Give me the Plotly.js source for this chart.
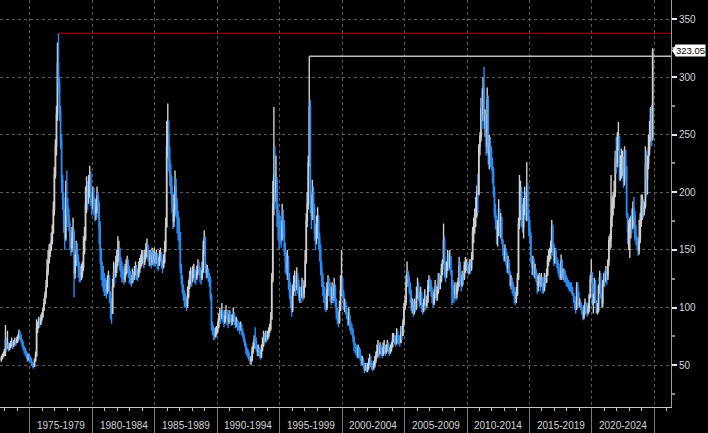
<!DOCTYPE html>
<html>
<head>
<meta charset="utf-8">
<script src="https://cdn.plot.ly/plotly-3.0.1.min.js"></script>
<style>html,body{margin:0;padding:0;background:#000;}#chart{width:708px;height:433px;}</style>
</head>
<body>
<div id="chart"></div>
<script>
// Monthly bars, Sep 1972 .. Nov 2024
const startYear = 1972, startMonth = 9;
const firstOpen = 55;
const close = [
  56,58,60,62,
  72,66,68,64,66,68,70,67,69,71,70,72,
  74,78,76,72,70,66,64,62,60,56,58,57,
  55,52,50,49,54,58,82,84,88,86,90,92,
  98,104,110,118,132,140,148,150,158,165,185,215,
  240,268,312,296,270,245,210,195,175,160,195,188,
  180,172,160,152,160,165,130,140,150,142,135,130,
  128,130,135,148,160,190,200,195,205,215,195,190,
  195,190,182,185,196,190,170,150,135,128,125,120,
  118,115,120,125,112,105,95,118,130,128,135,140,
  145,150,140,132,130,128,125,130,135,138,132,128,
  125,122,128,126,130,134,130,128,132,136,140,142,
  145,140,144,150,152,146,142,144,140,145,142,146,
  142,145,140,138,144,146,140,136,140,150,170,240,
  250,228,215,205,190,175,185,205,190,178,170,165,
  135,125,118,112,108,104,102,110,118,125,128,125,
  130,132,128,126,130,136,134,128,126,132,150,160,
  135,130,132,128,125,110,85,82,78,75,78,80,
  84,90,95,92,96,92,88,92,96,90,88,94,
  92,88,90,94,90,86,88,85,84,82,84,80,
  76,72,68,64,62,60,56,54,55,62,66,72,
  70,66,62,64,60,58,64,68,74,72,76,74,
  76,80,82,90,124,190,215,200,210,180,170,165,
  165,160,175,170,150,140,135,140,125,120,105,98,
  115,120,122,118,125,120,110,112,110,118,112,118,
  140,175,190,225,275,190,180,200,185,165,160,172,
  175,160,150,135,128,118,112,108,100,115,120,118,
  112,108,116,110,118,105,96,92,88,98,115,125,
  112,102,104,98,95,90,92,84,82,80,74,68,
  66,62,60,64,60,58,52,54,50,46,48,46,
  48,52,54,52,50,48,50,54,58,62,66,60,
  64,62,60,64,66,62,64,68,64,62,64,66,
  72,74,72,70,76,74,72,70,78,76,86,100,
  105,122,130,125,120,112,100,104,98,102,100,110,
  118,110,106,112,100,98,104,110,102,106,118,124,
  120,114,110,104,112,118,110,114,124,122,124,134,
  140,158,135,130,134,144,138,144,132,118,118,112,
  116,112,118,122,136,124,120,128,126,136,136,138,
  134,130,136,135,142,166,170,180,180,200,198,240,
  248,272,268,290,262,265,240,280,232,240,236,226,
  218,200,182,175,168,170,185,170,178,158,150,143,
  148,140,135,138,130,120,122,118,115,110,108,112,
  125,172,178,200,185,170,188,192,188,200,178,168,
  162,140,135,140,130,132,126,120,122,125,120,126,
  118,116,126,122,128,140,145,148,150,170,155,140,
  148,140,138,134,130,126,140,130,132,128,126,122,
  122,120,118,118,116,112,108,102,100,118,112,102,
  104,100,96,92,96,104,96,96,100,110,124,130,
  104,106,120,106,96,98,118,126,110,104,120,126,
  124,130,128,140,158,160,178,190,196,200,230,226,
  240,248,222,224,230,230,210,236,222,180,166,168,
  172,176,170,186,180,160,160,156,150,160,176,188,
  190,184,188,224,212,225,238,250,272,248,323.05
];
const high = [
  58,60,62,64,
  85,74,80,70,69,71,74,71,72,74,73,75,
  77,81,80,77,73,70,67,65,63,61,60,60,
  58,56,53,52,56,62,90,88,92,91,94,96,
  100,108,114,124,142,150,155,156,165,172,192,222,
  246,275,330,338,300,275,250,215,200,185,210,219,
  195,186,175,166,170,178,168,146,158,156,146,140,
  136,138,140,162,170,205,214,210,215,223,218,200,
  205,204,195,194,205,200,192,175,152,140,136,130,
  126,124,128,132,128,114,108,125,140,138,145,150,
  162,158,152,144,140,136,134,138,142,145,142,136,
  132,128,134,132,136,140,137,134,140,143,146,150,
  150,147,150,156,160,155,150,150,148,152,150,152,
  148,150,147,144,150,152,148,142,146,158,178,262,
  277,262,240,225,214,200,198,219,212,195,184,178,
  150,138,128,120,115,112,108,118,124,132,135,133,
  136,138,134,132,136,142,140,135,132,140,158,167,
  162,138,137,134,130,127,112,88,84,82,83,84,
  88,95,100,98,104,98,94,98,102,98,94,98,
  97,94,94,100,96,92,92,90,88,87,88,86,
  82,78,74,70,66,64,62,58,58,66,70,76,
  83,74,68,68,66,63,68,74,80,78,80,80,
  80,83,86,96,130,210,274,240,232,213,190,182,
  180,175,190,185,176,156,148,150,145,130,122,110,
  120,128,132,128,135,130,124,118,118,126,122,124,
  150,182,200,232,318,280,198,211,205,190,172,180,
  187,180,165,155,140,130,122,118,110,122,128,126,
  122,118,122,120,126,120,108,100,96,106,128,150,
  126,115,108,106,102,96,100,94,88,86,82,76,
  70,68,66,68,66,64,58,58,56,52,52,52,
  52,56,60,58,54,52,54,58,62,68,72,68,
  70,68,66,70,72,68,68,72,70,66,68,70,
  78,78,76,76,82,80,76,76,84,84,90,104,
  110,128,140,132,128,122,116,108,106,108,106,118,
  126,122,114,118,114,104,108,116,112,110,124,128,
  126,124,118,112,116,124,120,118,130,130,128,138,
  142,173,162,140,140,150,148,150,144,132,124,120,
  122,120,122,126,144,140,128,132,130,140,144,142,
  140,138,142,142,148,170,178,186,196,206,216,242,
  252,282,290,300,309,272,268,291,284,250,248,240,
  230,222,205,190,180,176,194,186,182,175,160,152,
  155,152,148,145,142,132,128,126,122,118,114,118,
  130,178,215,210,205,190,195,205,200,226,208,185,
  176,165,145,145,142,138,134,130,128,130,128,130,
  122,122,130,128,134,145,150,152,158,176,172,152,
  152,152,144,142,138,132,146,142,134,134,132,128,
  126,124,122,122,122,118,112,110,106,122,122,114,
  108,104,102,98,102,108,104,102,104,112,128,142,
  130,112,126,124,106,104,120,132,130,112,124,130,
  132,136,134,142,162,164,215,196,200,210,236,248,
  252,261,248,232,238,236,230,240,234,222,182,176,
  178,180,186,192,196,184,172,162,158,176,182,198,
  198,194,192,240,236,232,250,262,274,276,325
];
const low = [
  53,55,57,58,
  58,63,64,62,63,65,66,64,66,68,67,69,
  70,73,72,69,66,63,60,58,56,53,54,53,
  52,50,48,47,49,53,58,78,82,83,85,88,
  94,97,103,108,118,128,138,144,150,155,164,180,
  212,232,262,285,262,238,200,185,165,150,158,180,
  170,166,150,145,148,156,109,125,136,136,126,122,
  122,124,126,132,146,158,182,185,190,196,188,180,
  185,180,175,176,182,178,155,138,124,118,114,110,
  110,108,112,114,104,90,86,100,118,120,126,130,
  136,140,132,126,122,122,120,122,128,130,126,121,
  120,118,121,122,124,128,124,123,126,130,134,136,
  138,134,137,142,144,140,136,136,134,137,136,138,
  136,138,133,132,136,140,134,130,134,138,148,172,
  230,218,205,198,182,168,170,180,178,164,158,150,
  130,120,112,106,100,100,97,100,108,116,120,118,
  122,126,121,120,124,128,128,122,120,124,130,145,
  130,125,126,122,118,106,80,76,72,72,74,76,
  78,82,88,86,90,87,83,86,90,85,82,86,
  88,84,85,88,85,82,83,80,80,77,80,76,
  74,70,66,60,58,56,54,51,50,53,60,64,
  64,62,58,58,57,55,56,62,66,68,70,70,
  72,74,78,80,92,122,180,185,192,170,158,150,
  155,152,158,160,145,130,128,124,115,108,100,92,
  96,110,114,110,115,112,106,104,104,108,106,108,
  118,138,170,185,222,182,168,176,176,158,150,155,
  160,150,140,128,118,110,104,98,96,98,110,110,
  105,102,104,104,106,100,90,86,83,86,97,110,
  108,98,96,94,90,84,85,80,77,76,70,62,
  60,58,56,56,56,54,50,50,47,43,45,44,
  44,46,50,48,46,45,46,48,52,56,58,56,
  60,58,56,58,60,58,60,62,60,58,60,62,
  66,70,68,66,68,70,68,66,70,72,76,86,
  98,102,118,118,112,104,97,95,92,94,96,98,
  108,106,100,102,96,94,96,102,98,100,104,114,
  114,110,104,100,102,108,106,106,112,116,116,122,
  128,138,126,122,126,132,132,134,128,102,104,104,
  108,106,108,114,118,120,114,118,120,124,130,132,
  130,128,130,130,132,142,156,164,170,178,182,198,
  232,244,255,262,255,248,232,234,224,220,222,219,
  208,196,178,168,155,153,162,162,160,155,145,140,
  140,136,130,130,128,118,116,112,110,104,102,104,
  110,124,168,176,170,165,160,180,176,175,175,162,
  155,138,128,128,126,125,122,112,114,118,114,118,
  112,112,114,118,122,128,136,140,142,148,145,136,
  138,138,134,130,126,124,124,126,124,122,122,118,
  118,116,114,114,112,110,104,98,95,98,110,100,
  100,98,94,89,90,94,96,92,94,96,108,122,
  102,95,104,104,95,94,96,112,108,100,100,118,
  118,122,120,124,136,150,152,170,180,186,196,216,
  222,236,210,210,212,214,204,206,212,178,155,150,
  143,160,164,168,176,158,154,150,145,146,156,170,
  176,178,180,186,196,198,220,232,244,240,245
];
const periodStarts = [1975,1980,1985,1990,1995,2000,2005,2010,2015,2020];
const periodLabels = ['1975-1979','1980-1984','1985-1989','1990-1994','1995-1999',
                      '2000-2004','2005-2009','2010-2014','2015-2019','2020-2024'];
const yTicks = [50,100,150,200,250,300,350];

// build table
const pad = n => (n < 10 ? '0' : '') + n;
const dates = [], opens = [], highs = [], lows = [];
for (let i = 0; i < close.length; i++) {
  const m = startMonth - 1 + i;
  const yr = startYear + Math.floor(m / 12);
  const mo = (m % 12) + 1;
  dates.push(yr + '-' + pad(mo) + '-15');
  const o = i === 0 ? firstOpen : close[i - 1];
  opens.push(o);
  highs.push(Math.max(high[i], o, close[i]));
  lows.push(Math.min(low[i], o, close[i]));
}
const xRange = ['1972-08-08', '2026-05-04'];
const yRange = [13.8, 366.8];

// record highs for reference lines
let iMax = 0;
for (let i = 1; i < highs.length; i++) if (highs[i] > highs[iMax]) iMax = i;
let i2 = -1;
for (let i = 0; i < highs.length - 1; i++) {
  if (+dates[i].slice(0, 4) >= 1980 && (i2 < 0 || highs[i] > highs[i2])) i2 = i;
}
const last = close[close.length - 1];

const trace = {
  type: 'candlestick',
  x: dates, open: opens, high: highs, low: lows, close: close,
  increasing: {line: {color: '#cfcfcf', width: 1.4}, fillcolor: '#858585'},
  decreasing: {line: {color: '#2a8cf2', width: 1.4}, fillcolor: '#2a8cf2'},
  whiskerwidth: 0,
  hoverinfo: 'skip',
  showlegend: false
};

const font = {family: 'Liberation Sans, Arial, sans-serif', size: 10, color: '#d4d4d4'};
const boundaries = periodStarts.concat([2025]).map(y => y + '-01-01');

const annotations = periodStarts.map((y, k) => ({
  x: (y + 2) + '-07-02', xref: 'x', y: 0, yref: 'paper',
  yanchor: 'middle', xanchor: 'center', yshift: -18,
  text: periodLabels[k], showarrow: false,
  font: {family: font.family, size: 10, color: '#d4d4d4'}
}));
const lastPy = (last - yRange[0]) / (yRange[1] - yRange[0]);
annotations.push({
  x: 1, xref: 'paper', xanchor: 'left', xshift: 4,
  y: lastPy, yref: 'paper', yanchor: 'middle',
  text: last.toFixed(2), showarrow: false,
  bgcolor: '#ffffff', borderpad: 0,
  font: {family: font.family, size: 9.5, color: '#000000'}
});

const layout = {
  width: 708, height: 433,
  margin: {l: 0, r: 37, t: 0, b: 26, pad: 0},
  paper_bgcolor: '#000000', plot_bgcolor: '#000000',
  font: font,
  showlegend: false,
  xaxis: {
    type: 'date', range: xRange,
    rangeslider: {visible: false},
    tickmode: 'array', tickvals: boundaries, showticklabels: false,
    ticks: 'outside', ticklen: 26, tickcolor: '#7a7a7a', tickwidth: 1,
    showgrid: true, gridcolor: '#5a5a5a', griddash: 'dot', gridwidth: 1,
    showline: true, linecolor: '#c8c8c8', linewidth: 1,
    zeroline: false,
    minor: {ticks: 'outside', ticklen: 3, tickcolor: '#bdbdbd', dtick: 'M12', tick0: '1975-01-01', showgrid: false}
  },
  yaxis: {
    side: 'right', range: yRange,
    tickmode: 'array', tickvals: yTicks,
    ticks: 'outside', ticklen: 5, tickwidth: 2, tickcolor: '#e6e6e6',
    tickfont: {family: font.family, size: 10, color: '#d4d4d4'},
    showgrid: true, gridcolor: '#5a5a5a', griddash: 'dot', gridwidth: 1,
    showline: true, linecolor: '#9a9a9a', linewidth: 1,
    zeroline: false,
    minor: {ticks: 'outside', ticklen: 3, tickcolor: '#8a8a8a', dtick: 25, tick0: 0, showgrid: false}
  },
  shapes: [
    {type: 'line', xref: 'x', yref: 'y', x0: dates[iMax], x1: xRange[1], y0: highs[iMax], y1: highs[iMax],
     line: {color: '#b00000', width: 1}},
    {type: 'line', xref: 'x', yref: 'y', x0: dates[i2], x1: xRange[1], y0: highs[i2], y1: highs[i2],
     line: {color: '#bdbdbd', width: 1.5}},
    {type: 'path', xref: 'paper', yref: 'paper', xsizemode: 'pixel', ysizemode: 'pixel',
     xanchor: 1, yanchor: lastPy, path: 'M1,0 L5,6 L5,-6 Z',
     fillcolor: '#ffffff', line: {width: 0}}
  ],
  annotations: annotations
};

Plotly.newPlot('chart', [trace], layout, {displayModeBar: false, staticPlot: true});
</script>
</body>
</html>
